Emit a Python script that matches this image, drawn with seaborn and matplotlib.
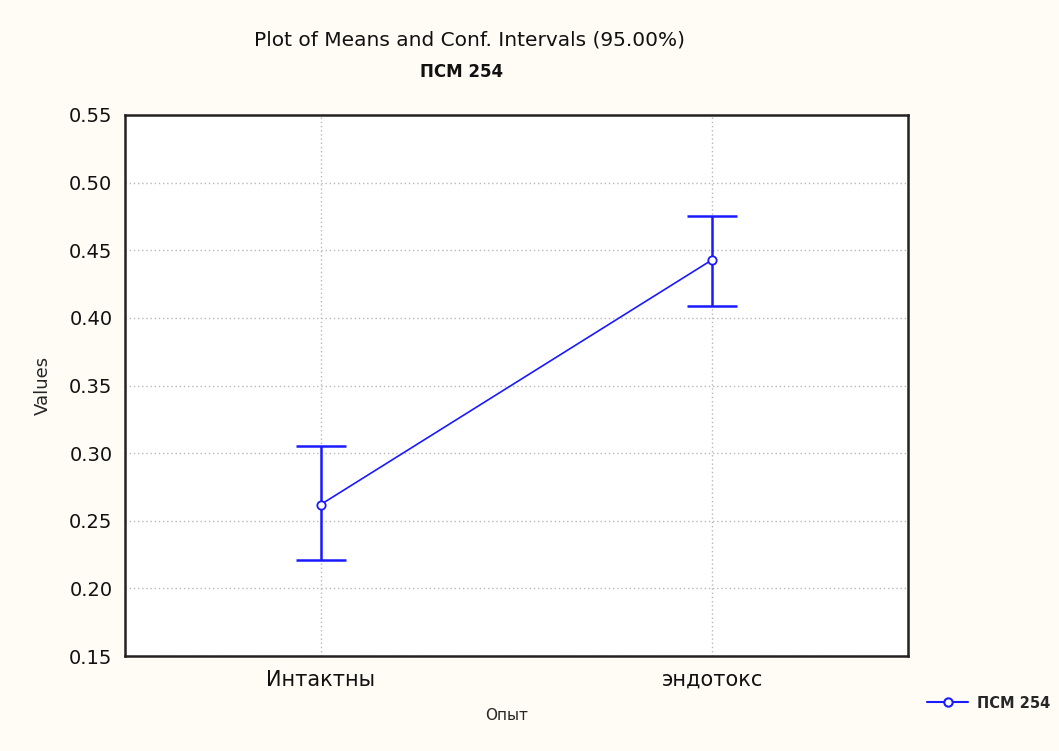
import matplotlib
matplotlib.use("Agg")
import matplotlib.pyplot as plt
import seaborn as sns
import pandas as pd
from matplotlib.lines import Line2D

categories = ["Интактны", "эндотокс"]
means = [0.262, 0.443]
ci_low = [0.221, 0.409]
ci_high = [0.305, 0.475]
yticks = [0.15, 0.20, 0.25, 0.30, 0.35, 0.40, 0.45, 0.50, 0.55]
series_name = "ПСМ 254"

sns.set_theme(style="white")
plt.rcParams['font.family'] = ['DejaVu Sans']

bg = "#fffcf6"
fig = plt.figure(figsize=(10.59, 7.51), dpi=100, facecolor=bg)
ax = fig.add_axes([125/1059, 1-656/751, (908-125)/1059, (656-115)/751])
ax.set_facecolor("white")

df = pd.DataFrame({"Опыт": categories, "Values": means})
pos = list(range(len(categories)))
df["pos"] = pos
blue = "#1a1aff"
sns.lineplot(data=df, x="pos", y="Values", ax=ax, color=blue, linewidth=1.2,
             marker="o", markersize=6, markerfacecolor="white",
             markeredgecolor=blue, markeredgewidth=1.3, zorder=4)
yerr = [[m - l for m, l in zip(means, ci_low)], [h - m for m, h in zip(means, ci_high)]]
ax.errorbar(pos, means, yerr=yerr, fmt="none", ecolor=blue, elinewidth=1.8,
            capsize=18, capthick=1.8, zorder=3)

ax.set_xlim(-0.5, 1.5)
ax.set_ylim(0.15, 0.55)
ax.set_yticks(yticks)
ax.set_yticklabels([f"{t:.2f}" for t in yticks], fontsize=14, color="#111111")
ax.set_xticks(pos)
ax.set_xticklabels(categories, fontsize=15, color="#111111")
ax.tick_params(axis="y", direction="in", length=5, width=1, colors="#222222", labelcolor="#111111", pad=9)
ax.tick_params(axis="x", length=0, pad=10, labelcolor="#111111")
ax.grid(True, color="#b8b8b8", linestyle=(0, (1, 2)), linewidth=1)
for s in ax.spines.values():
    s.set_color("#222222")
    s.set_linewidth(1.8)

ax.set_xlabel("Опыт", fontsize=11, labelpad=14)
ax.xaxis.set_label_coords((507-125)/(908-125), -0.097)
ax.set_ylabel("Values", fontsize=13, labelpad=10)
ax.yaxis.set_label_coords(-(125-52)/(908-125), 0.5)

fig.text(469/1059, 1-40/751, "Plot of Means and Conf. Intervals (95.00%)", ha="center", va="center",
         fontsize=14.5, color="#111111")
fig.text(462/1059, 1-72/751, series_name, ha="center", va="center", fontsize=12, fontweight="bold",
         color="#111111")

handle = Line2D([], [], color=blue, linewidth=1.5, marker="o", markersize=6,
                markerfacecolor="white", markeredgecolor=blue, markeredgewidth=1.5)
fig.legend([handle], [series_name], loc="center left", bbox_to_anchor=(914/1059, 1-703/751),
           frameon=False, handlelength=2.8, handletextpad=0.6,
           prop={"weight": "bold", "size": 10.5})

fig.savefig("out.png", dpi=100, facecolor=bg)
